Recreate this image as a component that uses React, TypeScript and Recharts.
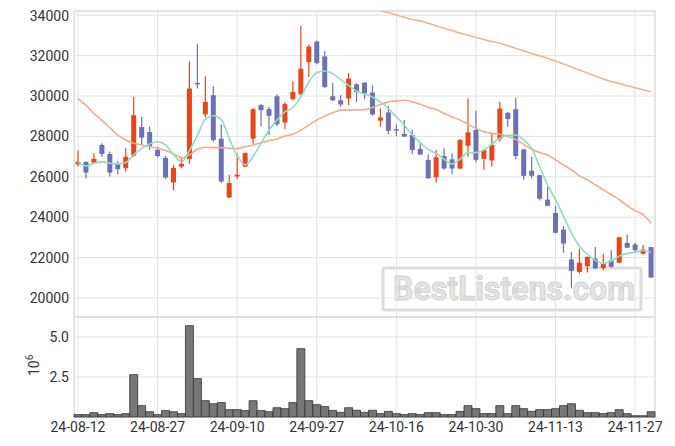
import React from 'react';
import { ComposedChart, BarChart, Bar, Line, XAxis, YAxis, CartesianGrid } from 'recharts';

const dates = [
  '24-08-12','24-08-13','24-08-14','24-08-16','24-08-19','24-08-20','24-08-21','24-08-22','24-08-23','24-08-26',
  '24-08-27','24-08-28','24-08-29','24-08-30','24-09-02','24-09-03','24-09-04','24-09-05','24-09-06','24-09-09',
  '24-09-10','24-09-11','24-09-12','24-09-13','24-09-19','24-09-20','24-09-23','24-09-24','24-09-25','24-09-26',
  '24-09-27','24-09-30','24-10-02','24-10-04','24-10-07','24-10-08','24-10-10','24-10-11','24-10-14','24-10-15',
  '24-10-16','24-10-17','24-10-18','24-10-21','24-10-22','24-10-23','24-10-24','24-10-25','24-10-28','24-10-29',
  '24-10-30','24-10-31','24-11-01','24-11-04','24-11-05','24-11-06','24-11-07','24-11-08','24-11-11','24-11-12',
  '24-11-13','24-11-14','24-11-15','24-11-18','24-11-19','24-11-20','24-11-21','24-11-22','24-11-25','24-11-26',
  '24-11-27','24-11-28','24-11-29',
];

const opens = [
  26610,26740,26700,27580,27130,26620,26430,27050,28460,28220,
  27330,26940,25720,26510,26890,30650,29090,30040,27890,24980,
  26020,26510,27890,29550,29350,29990,28690,29840,30090,31680,
  32700,31960,29990,29790,29880,30580,30660,30170,28780,29190,
  28360,28120,28070,27380,26840,25980,27030,26870,26410,27540,
  28320,26890,26810,27860,29170,29350,27360,26300,26080,24870,
  24210,23390,21910,21290,21580,21950,21480,21860,21750,22730,
  22650,22190,22520,
];
const highs = [
  27300,26760,27170,27660,27250,26790,27410,29960,28970,28480,
  27490,27030,26590,26920,31710,32590,30980,30500,28600,26100,
  27170,27200,29400,29600,29460,30090,29710,30730,33470,32550,
  32750,32220,30660,30040,31140,30630,30700,30530,29380,29500,
  28600,28810,28320,27660,27120,27330,27410,27170,27870,29880,
  29270,27380,28150,29710,29220,29930,27380,27000,26100,25520,
  24570,23550,22290,22440,22040,22520,22190,22360,23010,23140,
  22730,22620,22520,
];
const lows = [
  26510,25930,26640,27000,26020,26130,26260,27000,27580,27330,
  26970,25890,25330,26430,26660,30370,28940,27740,25700,24950,
  25890,26470,27630,28510,28070,28510,28350,29790,30040,30940,
  31580,30400,29760,29460,29550,29710,29830,29020,28480,28120,
  28020,27990,27130,27100,25890,25720,26350,26130,26380,27000,
  26720,26350,26510,27740,28480,26870,25850,25930,24830,24540,
  23200,22240,20480,21220,21260,21420,21380,21500,21720,22460,
  22240,22160,21010,
];
const closes = [
  26740,26210,26890,27130,26210,26380,26990,29050,27940,27530,
  27030,25970,26440,26640,30370,30600,29710,27820,25770,25690,
  26100,27170,29350,29300,29020,28600,29600,30200,31350,32450,
  31630,30450,29790,29580,30860,30200,30120,29090,28940,28280,
  28330,27990,27330,27100,25930,26970,26410,26410,27820,28200,
  26840,27330,27580,29380,28860,27030,26050,26050,24920,24570,
  23230,22700,21340,21750,22040,21470,21700,21550,23010,22490,
  22370,22400,21010,
];
const ma5 = [
  26706,26542,26673,26739,26673,26640,26706,27084,27412,27626,
  27740,27576,27100,26750,27300,28050,28850,29021,28830,27906,
  27050,26591,27002,27659,28315,28808,29218,29433,29956,30696,
  31156,31237,31108,30813,30532,30251,30100,29956,29711,29384,
  28972,28562,28069,27690,27363,27166,26870,26640,26870,27197,
  27197,27330,27626,27906,28050,28069,27823,27412,26509,25606,
  24867,24046,23227,22567,22158,21862,21714,21828,22074,22207,
  22273,22355,22273,
];
const ma20 = [
  29875,29547,29136,28808,28430,28069,27823,27659,27576,27494,
  27412,27298,27133,26950,27084,27363,27461,27445,27445,27412,
  27396,27494,27576,27691,27790,27872,28020,28102,28315,28562,
  28808,29005,29168,29300,29300,29316,29320,29433,29580,29711,
  29760,29793,29711,29596,29433,29333,29136,28972,28808,28611,
  28399,28232,28151,28102,28000,27855,27609,27363,27199,27084,
  26837,26591,26345,26049,25852,25606,25360,25113,24867,24571,
  24325,24128,23719,
];
const ma60 = [
  null,null,null,null,null,null,null,null,null,null,
  null,null,null,null,null,null,null,null,null,null,
  null,null,null,null,null,null,null,null,null,null,
  null,null,null,null,null,null,34450,34340,34230,34120,
  34010,33900,33790,33720,33600,33480,33360,33240,33120,33010,
  32900,32800,32700,32610,32490,32370,32240,32110,31990,31860,
  31730,31590,31440,31290,31140,30990,30840,30720,30620,30510,
  30410,30310,30210,
];
const volumes = [
  150000,150000,270000,150000,210000,150000,210000,2650000,710000,330000,
  150000,400000,330000,210000,5710000,2400000,1020000,830000,900000,460000,
  460000,400000,1020000,400000,330000,580000,520000,900000,4270000,1020000,
  770000,650000,410000,290000,580000,420000,290000,420000,210000,350000,
  210000,150000,210000,150000,270000,270000,150000,150000,350000,710000,
  520000,210000,210000,710000,210000,710000,520000,350000,460000,460000,
  520000,710000,830000,420000,270000,270000,210000,270000,460000,210000,
  80000,80000,330000,
];
const priceTicks = [20000, 22000, 24000, 26000, 28000, 30000, 32000, 34000];
const volumeTicks = [2500000, 5000000];

const rows = dates.map((d, i) => ({
  date: d,
  open: opens[i],
  high: highs[i],
  low: lows[i],
  close: closes[i],
  hl: [lows[i], highs[i]],
  ma5: ma5[i],
  ma20: ma20[i],
  ma60: ma60[i],
  vol: volumes[i],
}));

const UP = '#e8461a';
const DOWN = '#6c71b5';
const FONT = 'Roboto, sans-serif';
const tickStyle = { fill: '#333', fontSize: 14, fontFamily: FONT };

const Candle = (props: any) => {
  const { x, y, width, height, payload } = props;
  if (!payload || x == null || y == null) return null;
  const { open, close, high, low } = payload;
  const color = close >= open ? UP : DOWN;
  const h = Math.abs(height);
  const top = height >= 0 ? y : y + height;
  const range = high - low || 1;
  const py = (v: number) => top + ((high - v) / range) * h;
  const cx = x + width / 2;
  const bw = 5;
  const bTop = py(Math.max(open, close));
  const bBot = py(Math.min(open, close));
  return (
    <g>
      <line x1={cx} x2={cx} y1={top} y2={top + h} stroke={color} strokeWidth={1.2} />
      <rect x={cx - bw / 2} y={bTop} width={bw} height={Math.max(1.5, bBot - bTop)} fill={color} />
    </g>
  );
};

export default function App() {
  return (
    <div style={{ position: 'relative', width: 659, height: 438 }}>
      <svg width={659} height={438} style={{ position: 'absolute', left: 0, top: 0 }}>
        <rect x={66.5} y={3} width={580.5} height={306} fill="none" stroke="#d0d0d0" strokeWidth={1} />
        <rect x={66.5} y={309} width={580.5} height={100} fill="none" stroke="#d0d0d0" strokeWidth={1} />
        <rect x={375} y={260} width={258} height={42} rx={2} fill="none" stroke="#dddddd" strokeWidth={3} />
        <text x={506} y={292} textAnchor="middle" fontFamily={FONT} fontWeight="bold" fontSize={34}
          fill="#e4e4e4" stroke="#d2d2d2" strokeWidth={1} textLength={242} lengthAdjust="spacingAndGlyphs">
          BestListens.com
        </text>
        <text transform="translate(30.5,368) rotate(-90)" fontFamily={FONT} fontSize={14} fill="#333">
          10<tspan dy={-6} fontSize={10}>6</tspan>
        </text>
      </svg>
      <div style={{ position: 'relative' }}>
        <ComposedChart width={659} height={309} data={rows}
          margin={{ top: 3, right: 12, bottom: 0, left: 0 }} barCategoryGap={0}>
          <CartesianGrid stroke="#e3e3e3" />
          <XAxis dataKey="date" hide interval={9} />
          <YAxis domain={[19060, 34210]} allowDataOverflow ticks={priceTicks} width={66}
            tickLine={false} axisLine={false} tickSize={0} tickMargin={5} tick={tickStyle} />
          <Bar dataKey="hl" shape={<Candle />} isAnimationActive={false} />
          <Line dataKey="ma60" type="monotone" stroke="#f2b48e" strokeWidth={1.6} dot={false} isAnimationActive={false} />
          <Line dataKey="ma20" type="monotone" stroke="#f2ab8c" strokeWidth={1.6} dot={false} isAnimationActive={false} />
          <Line dataKey="ma5" type="monotone" stroke="#8fdcc2" strokeWidth={1.6} dot={false} isAnimationActive={false} />
        </ComposedChart>
        <BarChart width={659} height={130} data={rows}
          margin={{ top: 0, right: 12, bottom: 0, left: 0 }} barCategoryGap={0}>
          <CartesianGrid stroke="#e3e3e3" />
          <XAxis dataKey="date" interval={9} height={30} tickLine={false} axisLine={false}
            tickSize={0} tickMargin={5} tick={tickStyle} />
          <YAxis domain={[0, 6250000]} ticks={volumeTicks} width={66} tickLine={false} axisLine={false}
            tickSize={0} tickMargin={5} tick={tickStyle} tickFormatter={(v: number) => (v / 1e6).toFixed(1)} />
          <Bar dataKey="vol" fill="#777777" stroke="#333333" strokeWidth={0.8} isAnimationActive={false} />
        </BarChart>
      </div>
    </div>
  );
}
